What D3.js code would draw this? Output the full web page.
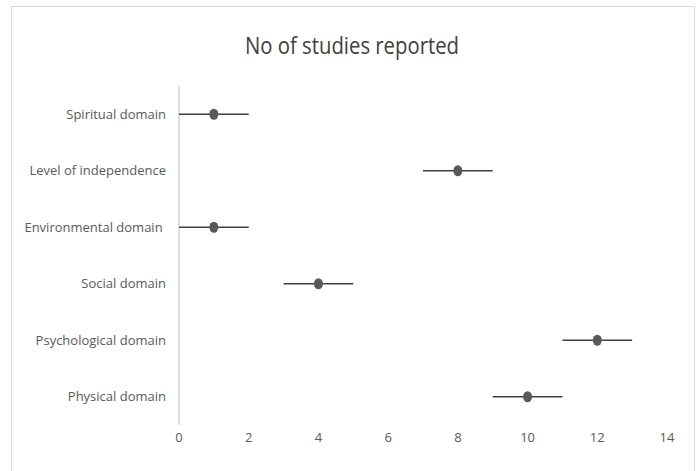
<!DOCTYPE html>
<html><head><meta charset="utf-8">
<script src="https://cdn.jsdelivr.net/npm/d3@7"></script>
<style>body{margin:0;background:#fff}svg{display:block}text{white-space:pre}</style>
</head><body>
<script>
const categories = ["Spiritual domain","Level of independence","Environmental domain ","Social domain","Psychological domain","Physical domain"];
const values = [1, 8, 1, 4, 12, 10];
const errLow = [1, 1, 1, 1, 1, 1];
const errHigh = [1, 1, 1, 1, 1, 1];
const xTicks = [0, 2, 4, 6, 8, 10, 12, 14];
const title = "No of studies reported";

const W = 697, H = 471;
const font = "'Open Sans',Arial,sans-serif";
const svg = d3.select("body").append("svg").attr("width", W).attr("height", H);
svg.append("rect").attr("x", 11.5).attr("y", 6.5).attr("width", 683).attr("height", 470)
  .attr("fill", "#fff").attr("stroke", "#d9d9d9");

const x = d3.scaleLinear().domain([0, 14]).range([179, 667]);
const y = d3.scaleBand().domain(categories).range([86, 425]);

svg.append("text").attr("x", 352).attr("y", 54).attr("text-anchor", "middle")
  .attr("font-family", font).attr("font-size", 23).attr("fill", "#404040")
  .attr("textLength", 214).attr("lengthAdjust", "spacingAndGlyphs").text(title);

// y axis line
svg.append("line").attr("x1", x(0)).attr("x2", x(0)).attr("y1", 86).attr("y2", 425)
  .attr("stroke", "#bfbfbf").attr("stroke-width", 1);

// y labels
svg.selectAll(".ylab").data(categories).join("text")
  .attr("x", 166).attr("y", d => y(d) + y.bandwidth() / 2 + 4.5)
  .attr("text-anchor", "end").attr("font-family", font).attr("font-size", 13)
  .attr("fill", "#595959").text(d => d);

// x tick labels
svg.selectAll(".xlab").data(xTicks).join("text")
  .attr("x", d => x(d)).attr("y", 442).attr("text-anchor", "middle")
  .attr("font-family", font).attr("font-size", 13).attr("fill", "#595959").text(d => d);

const data = categories.map((c, i) => ({c, v: values[i], lo: values[i] - errLow[i], hi: values[i] + errHigh[i]}));
svg.selectAll(".err").data(data).join("line")
  .attr("x1", d => x(d.lo)).attr("x2", d => x(d.hi))
  .attr("y1", d => y(d.c) + y.bandwidth() / 2).attr("y2", d => y(d.c) + y.bandwidth() / 2)
  .attr("stroke", "#404040").attr("stroke-width", 1.5);
svg.selectAll(".pt").data(data).join("ellipse")
  .attr("cx", d => x(d.v)).attr("cy", d => y(d.c) + y.bandwidth() / 2)
  .attr("rx", 4.5).attr("ry", 5.5).attr("fill", "#595959");
</script>
</body></html>
